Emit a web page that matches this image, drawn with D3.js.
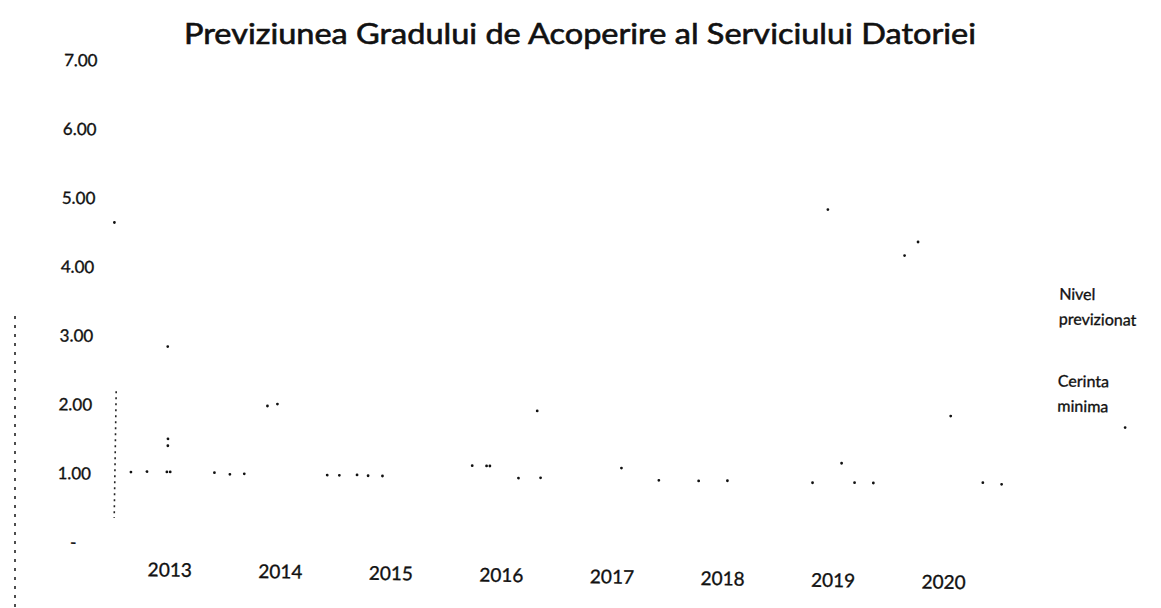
<!DOCTYPE html>
<html><head><meta charset="utf-8">
<script src="https://cdn.jsdelivr.net/npm/d3@7"></script>
<style>
html,body{margin:0;padding:0;background:#fff;}
text{font-family:Lato,"Open Sans",sans-serif;fill:#111;stroke:#111;stroke-width:0.35px;}
</style></head>
<body><svg id="c" width="1161" height="608"></svg>
<script>
// ---- data ----
const title = "Previziunea Gradului de Acoperire al Serviciului Datoriei";
const years = [2013, 2014, 2015, 2016, 2017, 2018, 2019, 2020];
const yTickValues = [0, 1, 2, 3, 4, 5, 6, 7];
const yTickLabels = ["-", "1.00", "2.00", "3.00", "4.00", "5.00", "6.00", "7.00"];
const legendNames = ["Nivel previzionat", "Cerinta minima"];
// surviving points of the faded lines: position on the year axis and value
const pointYear = [2012.45, 2012.95, 2012.965, 2012.965, 2012.635, 2012.78, 2012.96, 2012.99,
  2013.39, 2013.53, 2013.66, 2013.86, 2013.95,
  2014.41, 2014.52, 2014.68, 2014.78, 2014.91,
  2015.72, 2015.85, 2015.88, 2016.14, 2016.34, 2016.30,
  2017.07, 2017.41, 2017.77, 2018.03,
  2018.80, 2019.06, 2019.18, 2019.35, 2018.90,
  2019.60, 2019.72, 2020.04, 2020.34, 2020.51];
const pointValue = [4.65, 2.86, 1.52, 1.42, 1.03, 1.04, 1.04, 1.04,
  1.04, 1.02, 1.03, 2.02, 2.05,
  1.03, 1.03, 1.04, 1.03, 1.03,
  1.20, 1.20, 1.20, 1.03, 1.04, 2.01,
  1.20, 1.03, 1.03, 1.04,
  1.03, 1.32, 1.04, 1.04, 5.00,
  4.35, 4.55, 2.03, 1.07, 1.05];
// faded vertical axis remnant (value range)
const axisRemnant = [0.36, 2.2];

// ---- drawing ----
const svg = d3.select("#c");
svg.append("text").attr("x", 580).attr("y", 44).attr("text-anchor", "middle")
  .attr("font-size", 28).attr("textLength", 792).attr("lengthAdjust", "spacingAndGlyphs")
  .style("stroke-width", "0.6px")
  .text(title);

const g = svg.append("g").attr("transform", "rotate(0.9,580,304)");
const x = d3.scaleLinear().domain([2013, 2020]).range([174, 948]);
const y = d3.scaleLinear().domain([0, 7]).range([550, 68]);

// y tick labels
g.selectAll(".yl").data(yTickValues).join("text")
  .attr("x", 77).attr("y", d => y(d)).attr("dy", "0.36em")
  .attr("text-anchor", "middle").attr("font-size", 17)
  .text((d, i) => yTickLabels[i]);

// x labels
g.selectAll(".xl").data(years).join("text")
  .attr("x", d => x(d)).attr("y", 583).attr("text-anchor", "middle")
  .attr("font-size", 19).text(d => d);

// faded axis line
g.append("line").attr("x1", x(2012.49)).attr("x2", x(2012.49))
  .attr("y1", y(axisRemnant[1])).attr("y2", y(axisRemnant[0]))
  .attr("stroke", "#222").attr("stroke-width", 1.6).attr("stroke-dasharray", "2,4");

// points
g.selectAll(".pt").data(pointYear).join("circle")
  .attr("cx", d => x(d)).attr("cy", (d, i) => y(pointValue[i]))
  .attr("r", 1.4).attr("fill", "#111");

// legend
const lg = g.append("g").attr("transform", "translate(1059,0)");
const legY = [292, 379];
legendNames.forEach((n, i) => {
  const parts = n.split(" ");
  const t = lg.append("text").attr("font-size", 16).attr("y", legY[i]);
  t.append("tspan").attr("x", 0).text(parts[0]);
  t.append("tspan").attr("x", 0).attr("dy", 25).text(parts[1]);
});
lg.append("circle").attr("cx", 68).attr("cy", 419).attr("r", 1.4).attr("fill", "#111");

// scan artifact at the left border
svg.append("line").attr("x1", 15).attr("x2", 15).attr("y1", 316).attr("y2", 608)
  .attr("stroke", "#222").attr("stroke-width", 1.6).attr("stroke-dasharray", "3,6");
</script></body></html>
